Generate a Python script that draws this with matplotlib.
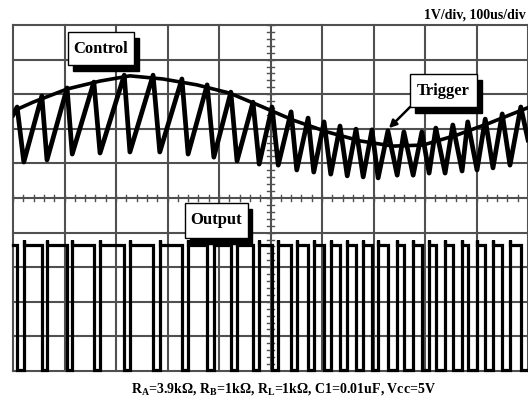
"""
oscilloscope capture of a 555 VCO: control, trigger and output traces
"""

import matplotlib as mpl
mpl.use( "Agg" )
import matplotlib.pyplot as plt
from matplotlib.patches import Rectangle

# screen units: x in divisions (100us/div), y in divisions (1V/div), 10 x 10 grid
n_div = 10

# control voltage (slow sine)
control_t = [0.00, 0.39, 1.05, 1.69, 2.27, 2.91, 3.57, 4.21, 4.85, 5.44,
             6.10, 6.74, 7.38, 7.96, 8.62, 9.26, 9.98]
control_v = [7.51, 7.77, 8.15, 8.38, 8.53, 8.44, 8.27, 8.03, 7.63, 7.25,
             6.91, 6.65, 6.50, 6.53, 6.82, 7.17, 7.60]

# trigger (capacitor) voltage: peaks and troughs of the ramp
peak_t = [0.08, 0.56, 1.05, 1.57, 2.16, 2.72, 3.28, 3.77, 4.23, 4.66, 5.03, 5.40, 5.73,
          6.04, 6.35, 6.66, 6.97, 7.28, 7.59, 7.94, 8.21, 8.54, 8.83, 9.17, 9.50, 9.86]
peak_v = [7.63, 7.95, 8.18, 8.35, 8.55, 8.55, 8.44, 8.27, 8.06, 7.77, 7.63, 7.49, 7.31,
          7.20, 7.08, 6.99, 6.97, 6.94, 6.91, 6.91, 7.02, 7.11, 7.20, 7.28, 7.43, 7.63]
trough_t = [0.21, 0.66, 1.15, 1.69, 2.27, 2.85, 3.40, 3.90, 4.35, 4.78, 5.15, 5.51, 5.84,
            6.17, 6.49, 6.80, 7.09, 7.46, 7.77, 8.08, 8.39, 8.72, 9.01, 9.32, 9.65]
trough_v = [6.04, 6.10, 6.27, 6.30, 6.33, 6.33, 6.27, 6.18, 6.07, 5.98, 5.95, 5.81, 5.75,
            5.69, 5.64, 5.61, 5.58, 5.66, 5.66, 5.72, 5.72, 5.78, 5.81, 5.87, 5.95]
trig_start = ( 0.00, 7.40 )
trig_end = ( 10.00, 6.68 )

# output levels (low while the capacitor discharges, peak -> trough)
out_high = 3.64
out_spike = 3.79
out_low = 0.03

title = "1V/div, 100us/div"
caption = (r"R$_\mathregular{A}$=3.9k$\Omega$, R$_\mathregular{B}$=1k$\Omega$, "
           r"R$_\mathregular{L}$=1k$\Omega$, C1=0.01uF, Vcc=5V")

plt.rcParams["font.family"] = ["Liberation Serif", "DejaVu Serif"]
plt.rcParams["font.weight"] = "bold"
plt.rcParams["mathtext.default"] = "regular"

W, H = 528, 411
fig = plt.figure( figsize=(W / 100, H / 100), dpi=100 )
ax = fig.add_axes( [13 / W, (H - 371) / H, 515 / W, 346 / H] )
ax.set_xlim( 0, n_div )
ax.set_ylim( 0, n_div )
ax.axis( "off" )

# graticule
grid_col = "#505050"
for i in range( n_div + 1 ):
    ax.plot( [i, i], [0, n_div], color=grid_col, lw=1.5, clip_on=False, zorder=1 )
    ax.plot( [0, n_div], [i, i], color=grid_col, lw=1.5, clip_on=False, zorder=1 )

# minor ticks on the centre lines (5 per division)
for k in range( n_div * 5 + 1 ):
    ax.plot( [k / 5, k / 5], [4.91, 5.09], color=grid_col, lw=1.0, zorder=1 )
    ax.plot( [4.94, 5.06], [k / 5, k / 5], color=grid_col, lw=1.0, zorder=1 )

# trigger ramp: start, P, T, P, T, ..., P, end
trig_t = [trig_start[0]]
trig_v = [trig_start[1]]
for i in range( len( peak_t ) ):
    trig_t.append( peak_t[i] )
    trig_v.append( peak_v[i] )
    if i < len( trough_t ):
        trig_t.append( trough_t[i] )
        trig_v.append( trough_v[i] )
trig_t.append( trig_end[0] )
trig_v.append( trig_end[1] )
ax.plot( trig_t, trig_v, color="black", lw=3.4, zorder=3 )

ax.plot( control_t, control_v, color="black", lw=2.6, zorder=3 )

# output square wave
out_t = [0.0]
out_v = [out_high]
for i in range( len( peak_t ) ):
    tf = peak_t[i]
    out_t += [tf, tf]
    out_v += [out_high, out_low]
    if i < len( trough_t ):
        tr = trough_t[i]
        out_t += [tr, tr, tr]
        out_v += [out_low, out_spike, out_high]
out_t.append( n_div )
out_v.append( out_low )
ax.plot( out_t, out_v, color="black", lw=2.3, zorder=3, clip_on=False,
         solid_joinstyle="miter" )

# labels with drop shadow
def label( x0, y0, w, h, text ):
    ax.add_patch( Rectangle( (x0 + 0.09, y0 - 0.17), w, h, facecolor="black",
                             edgecolor="black", zorder=5 ) )
    ax.add_patch( Rectangle( (x0, y0), w, h, facecolor="white",
                             edgecolor="black", lw=1.0, zorder=6 ) )
    ax.text( x0 + w / 2, y0 + h / 2, text, ha="center", va="center",
             fontsize=12, fontweight="bold", zorder=7 )

label( 1.07, 8.84, 1.28, 0.96, "Control" )
label( 7.71, 7.63, 1.30, 0.95, "Trigger" )
label( 3.34, 3.84, 1.22, 1.02, "Output" )

ax.annotate( "", xy=(7.30, 7.02), xytext=(7.71, 7.63),
             arrowprops=dict( arrowstyle="-|>", color="black", lw=1.8,
                              mutation_scale=11, shrinkA=0, shrinkB=0 ),
             zorder=6 )

fig.text( 526 / W, 1 - 15 / H, title, ha="right", va="center",
          fontsize=10, fontweight="bold" )
fig.text( 283 / W, 1 - 389 / H, caption, ha="center", va="center",
          fontsize=10, fontweight="bold" )

plt.savefig( "out.png", dpi=100 )
plt.close()
